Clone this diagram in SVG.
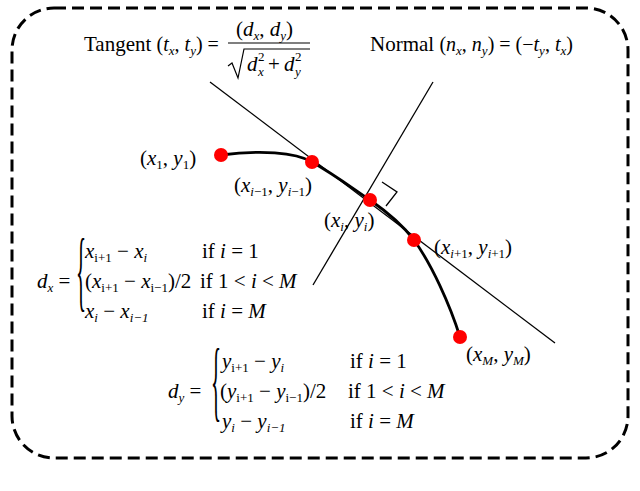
<svg xmlns="http://www.w3.org/2000/svg" width="640" height="491" viewBox="0 0 640 491">
<style>
text{font-family:"Liberation Serif","Times New Roman",serif;font-size:21px;fill:#000}
.i{font-style:italic}
.s{font-size:13px}
.ln{stroke:#000;stroke-width:1.3;fill:none}
.pt{fill:#f00}
</style>
<rect width="640" height="491" fill="#fff"/>
<rect x="12" y="8" width="616" height="450" rx="42" fill="none" stroke="#000" stroke-width="3" stroke-dasharray="12,6"/>
<g id="connectors">
<line class="ln" x1="210" y1="82" x2="555" y2="343"/>
<line class="ln" x1="433" y1="82" x2="313" y2="285"/>
<polyline class="ln" points="382,182 397,192 386,206"/>
<path d="M221,155 C260,150 295,152 312,162 C335,175 352,188 370,200 C390,214 405,228 414,240 C432,265 450,305 460,337" fill="none" stroke="#000" stroke-width="2.8"/>
</g>
<g id="points">
<circle class="pt" cx="221" cy="155" r="7"/>
<circle class="pt" cx="312" cy="162" r="7"/>
<circle class="pt" cx="370" cy="200" r="7"/>
<circle class="pt" cx="414" cy="240" r="7"/>
<circle class="pt" cx="460" cy="337" r="7"/>
</g>
<g id="labels">
<text x="140" y="165">(<tspan class="i">x</tspan><tspan class="s" dy="4">1</tspan><tspan dy="-4">, </tspan><tspan class="i">y</tspan><tspan class="s" dy="4">1</tspan><tspan dy="-4">)</tspan></text>
<text x="234" y="192">(<tspan class="i">x</tspan><tspan class="s i" dy="4">i</tspan><tspan class="s" >−1</tspan><tspan dy="-4">, </tspan><tspan class="i">y</tspan><tspan class="s i" dy="4">i</tspan><tspan class="s">−1</tspan><tspan dy="-4">)</tspan></text>
<text x="324" y="227">(<tspan class="i">x</tspan><tspan class="s i" dy="4">i</tspan><tspan dy="-4">, </tspan><tspan class="i">y</tspan><tspan class="s i" dy="4">i</tspan><tspan dy="-4">)</tspan></text>
<text x="434" y="254">(<tspan class="i">x</tspan><tspan class="s i" dy="4">i</tspan><tspan class="s">+1</tspan><tspan dy="-4">, </tspan><tspan class="i">y</tspan><tspan class="s i" dy="4">i</tspan><tspan class="s">+1</tspan><tspan dy="-4">)</tspan></text>
<text x="466" y="361">(<tspan class="i">x</tspan><tspan class="s i" dy="4">M</tspan><tspan dy="-4">, </tspan><tspan class="i">y</tspan><tspan class="s i" dy="4">M</tspan><tspan dy="-4">)</tspan></text>
</g>
<g id="tangent-eq">
<text x="84" y="51" font-size="17">Tangent <tspan font-size="20">(</tspan><tspan class="i" font-size="20">t</tspan><tspan class="s i" dy="4">x</tspan><tspan dy="-4" font-size="20">, </tspan><tspan class="i" font-size="20">t</tspan><tspan class="s i" dy="4">y</tspan><tspan dy="-4" font-size="20">) =</tspan></text>
<text x="236" y="36" font-size="20">(<tspan class="i">d</tspan><tspan class="s i" dy="4">x</tspan><tspan dy="-4">, </tspan><tspan class="i">d</tspan><tspan class="s i" dy="4">y</tspan><tspan dy="-4">)</tspan></text>
<line x1="228" y1="43" x2="310" y2="43" stroke="#000" stroke-width="1.2"/>
<polyline points="228,66 232,63 238,78 244,49 310,49" fill="none" stroke="#000" stroke-width="1.2"/>
<text x="247" y="71" class="i" font-size="20">d</text>
<text x="258" y="76" class="i s">x</text>
<text x="258" y="61" class="s">2</text>
<text x="268" y="71" font-size="20">+</text>
<text x="284" y="71" class="i" font-size="20">d</text>
<text x="295" y="76" class="i s">y</text>
<text x="295" y="61" class="s">2</text>
</g>
<g id="normal-eq">
<text x="370" y="51" font-size="17">Normal <tspan font-size="20">(</tspan><tspan class="i" font-size="20">n</tspan><tspan class="s i" dy="4">x</tspan><tspan dy="-4" font-size="20">, </tspan><tspan class="i" font-size="20">n</tspan><tspan class="s i" dy="4">y</tspan><tspan dy="-4" font-size="20">) = (−</tspan><tspan class="i" font-size="20">t</tspan><tspan class="s i" dy="4">y</tspan><tspan dy="-4" font-size="20">, </tspan><tspan class="i" font-size="20">t</tspan><tspan class="s i" dy="4">x</tspan><tspan dy="-4" font-size="20">)</tspan></text>
</g>
<g id="dx-eq">
<text x="37" y="288" class="i">d<tspan class="s" dy="4">x</tspan><tspan font-style="normal" dy="-4"> =</tspan></text>
<text transform="translate(76,300) scale(1,4.2)" font-size="22">{</text>
<text x="85" y="258" class="i">x<tspan class="s" font-style="normal" dy="4">i+1</tspan><tspan font-style="normal" dy="-4"> − </tspan>x<tspan class="s" dy="4">i</tspan></text>
<text x="85" y="288">(<tspan class="i">x</tspan><tspan class="s" dy="4">i+1</tspan><tspan dy="-4"> − </tspan><tspan class="i">x</tspan><tspan class="s" dy="4">i−1</tspan><tspan dy="-4">)/2</tspan></text>
<text x="85" y="318" class="i">x<tspan class="s" dy="4">i</tspan><tspan font-style="normal" dy="-4"> − </tspan>x<tspan class="s" dy="4">i−1</tspan></text>
<text x="202" y="258">if <tspan class="i">i</tspan> = 1</text>
<text x="200" y="288">if 1 &lt; <tspan class="i">i</tspan> &lt; <tspan class="i">M</tspan></text>
<text x="202" y="318">if <tspan class="i">i</tspan> = <tspan class="i">M</tspan></text>
</g>
<g id="dy-eq">
<text x="168" y="398" class="i">d<tspan class="s" dy="4">y</tspan><tspan font-style="normal" dy="-4"> =</tspan></text>
<text transform="translate(211,410) scale(1,4.2)" font-size="22">{</text>
<text x="222" y="368" class="i">y<tspan class="s" font-style="normal" dy="4">i+1</tspan><tspan font-style="normal" dy="-4"> − </tspan>y<tspan class="s" dy="4">i</tspan></text>
<text x="220" y="398">(<tspan class="i">y</tspan><tspan class="s" dy="4">i+1</tspan><tspan dy="-4"> − </tspan><tspan class="i">y</tspan><tspan class="s" dy="4">i−1</tspan><tspan dy="-4">)/2</tspan></text>
<text x="222" y="428" class="i">y<tspan class="s" dy="4">i</tspan><tspan font-style="normal" dy="-4"> − </tspan>y<tspan class="s" dy="4">i−1</tspan></text>
<text x="350" y="368">if <tspan class="i">i</tspan> = 1</text>
<text x="348" y="398">if 1 &lt; <tspan class="i">i</tspan> &lt; <tspan class="i">M</tspan></text>
<text x="350" y="428">if <tspan class="i">i</tspan> = <tspan class="i">M</tspan></text>
</g>
</svg>
